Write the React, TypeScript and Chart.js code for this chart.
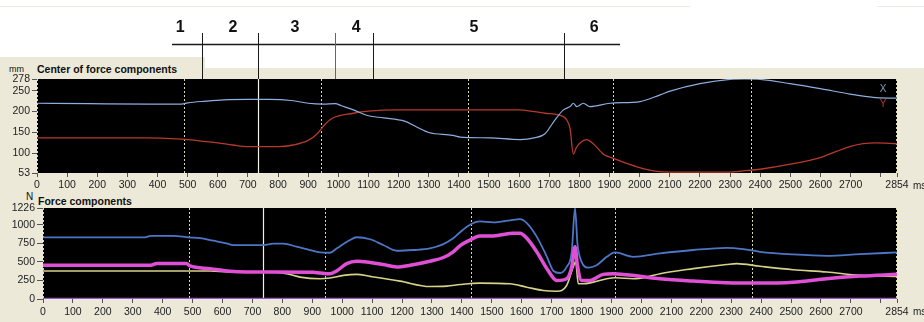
import React, { useEffect, useRef } from "react";
import { Chart, registerables } from "chart.js";

Chart.register(...registerables);

// ---------- data ----------
const X_MAX = 2854;
const xTickValues = [0, 100, 200, 300, 400, 500, 600, 700, 800, 900, 1000, 1100, 1200, 1300, 1400, 1500, 1600, 1700, 1800, 1900, 2000, 2100, 2200, 2300, 2400, 2500, 2600, 2700, 2800, 2854];
const xHiddenLabels = [2800];
const copTickValues = [53, 100, 150, 200, 250, 278];
const forceTickValues = [0, 250, 500, 750, 1000, 1226];

// Center of force components (mm)
const copXTimes = [0, 170, 370, 480, 500, 560, 620, 700, 770, 850, 900, 950, 990, 1010, 1050, 1100, 1150, 1220, 1260, 1300, 1380, 1404, 1503, 1603, 1650, 1686, 1714, 1747, 1769, 1780, 1791, 1813, 1835, 1902, 2001, 2068, 2101, 2200, 2300, 2350, 2400, 2499, 2599, 2698, 2775, 2854];
const copX = [220, 219, 218, 218, 221, 225, 228, 229, 229, 226, 220, 218, 219, 214, 204, 190, 185, 177, 163, 150, 143, 139, 137, 133, 137, 147, 175, 204, 212, 220, 212, 220, 212, 220, 224, 240, 249, 267, 277, 278, 277, 267, 255, 242, 234, 232];
const copYTimes = [0, 360, 480, 500, 600, 650, 700, 800, 850, 900, 930, 950, 980, 1050, 1100, 1200, 1400, 1600, 1650, 1686, 1730, 1758, 1769, 1780, 1790, 1824, 1846, 1880, 1913, 1950, 2000, 2046, 2100, 2300, 2344, 2400, 2500, 2600, 2700, 2780, 2854];
const copY = [137, 137, 134, 133, 125, 120, 116, 116, 120, 131, 147, 165, 184, 196, 201, 204, 204, 204, 200, 196, 192, 180, 159, 98, 114, 133, 123, 98, 88, 78, 66, 58, 55, 55, 58, 62, 74, 90, 117, 125, 123];

// Force components (N)
const forceBlueTimes = [0, 340, 360, 436, 486, 525, 569, 613, 636, 737, 770, 803, 847, 892, 926, 959, 981, 1026, 1048, 1093, 1137, 1182, 1238, 1293, 1338, 1371, 1394, 1427, 1460, 1505, 1561, 1594, 1617, 1650, 1684, 1706, 1728, 1750, 1767, 1778, 1786, 1800, 1823, 1850, 1884, 1912, 1973, 2062, 2173, 2284, 2340, 2396, 2507, 2619, 2730, 2854];
const forceBlue = [830, 830, 850, 850, 830, 820, 785, 750, 727, 727, 745, 745, 705, 660, 627, 623, 680, 795, 832, 805, 727, 650, 660, 682, 740, 818, 900, 1000, 1045, 1032, 1060, 1077, 1023, 840, 568, 377, 350, 432, 636, 1226, 750, 500, 423, 455, 568, 627, 568, 614, 660, 690, 673, 636, 600, 582, 605, 627];
const forceMagentaTimes = [0, 360, 380, 480, 491, 558, 625, 681, 903, 926, 959, 981, 1015, 1048, 1082, 1137, 1182, 1227, 1293, 1338, 1371, 1394, 1427, 1460, 1505, 1572, 1594, 1617, 1650, 1684, 1717, 1750, 1767, 1778, 1786, 1800, 1828, 1872, 1906, 1995, 2062, 2173, 2284, 2396, 2507, 2619, 2730, 2854];
const forceMagenta = [455, 455, 477, 477, 445, 409, 373, 364, 360, 350, 340, 377, 477, 509, 500, 464, 432, 455, 509, 559, 636, 720, 795, 850, 850, 886, 886, 818, 636, 409, 250, 273, 432, 705, 455, 250, 250, 332, 341, 305, 273, 241, 218, 214, 227, 273, 309, 332];
const forceYellowTimes = [0, 560, 620, 770, 814, 859, 926, 959, 1004, 1048, 1093, 1193, 1293, 1349, 1394, 1460, 1561, 1617, 1672, 1717, 1750, 1772, 1780, 1789, 1806, 1839, 1884, 1912, 1973, 2017, 2062, 2173, 2284, 2318, 2396, 2507, 2619, 2730, 2854];
const forceYellow = [377, 377, 364, 364, 341, 295, 273, 282, 318, 332, 305, 241, 168, 173, 195, 214, 205, 159, 114, 105, 182, 432, 500, 205, 205, 227, 273, 286, 273, 295, 341, 409, 464, 477, 441, 395, 364, 318, 305];
const forceBaseTimes = [0, 2854];
const forceBase = [0, 0];

// event markers (ms)
const markerTimes = [0, 488, 944, 1430, 1911, 2371, 2854];
const cursorTime = 735;

// phase annotations (ms on the top scale)
const phaseLabels = ["1", "2", "3", "4", "5", "6"];
const phaseLabelTimes = [475, 650, 856, 1059, 1450, 1849];
const phaseBounds = [548, 733, 989, 1115, 1749];
const phaseLineStart = 448;
const phaseLineEnd = 1935;

// ---------- helpers ----------
const pts = (t: number[], v: number[]) => t.map((x, i) => ({ x, y: v[i] }));
const TICK_FONT = { family: '"Liberation Sans", Arial, sans-serif', size: 10.5 };
const TICK_COLOR = "#222";

const panelPlugin = {
  id: "panel",
  beforeDraw(chart: any) {
    const { ctx, chartArea } = chart;
    ctx.save();
    ctx.fillStyle = "#000";
    ctx.fillRect(chartArea.left, chartArea.top, chartArea.right - chartArea.left, chartArea.bottom - chartArea.top);
    ctx.restore();
  },
  beforeDatasetsDraw(chart: any) {
    const { ctx, chartArea, scales } = chart;
    const x = scales.x;
    ctx.save();
    ctx.strokeStyle = "#d8d8a8";
    ctx.lineWidth = 1;
    ctx.setLineDash([2, 2]);
    markerTimes.forEach((ms) => {
      let px = Math.round(x.getPixelForValue(ms)) + 0.5;
      if (px > chartArea.right) px -= 1;
      ctx.beginPath();
      ctx.moveTo(px, chartArea.top);
      ctx.lineTo(px, chartArea.bottom);
      ctx.stroke();
    });
    ctx.setLineDash([]);
    ctx.strokeStyle = "#f2f2e6";
    ctx.lineWidth = 1.2;
    const cx = Math.round(x.getPixelForValue(cursorTime)) + 0.5;
    ctx.beginPath();
    ctx.moveTo(cx, chartArea.top);
    ctx.lineTo(cx, chartArea.bottom);
    ctx.stroke();
    ctx.restore();
  },
  afterDraw(chart: any) {
    const { ctx, chartArea } = chart;
    ctx.save();
    ctx.font = '10px "Liberation Sans", Arial, sans-serif';
    ctx.fillStyle = TICK_COLOR;
    ctx.textAlign = "left";
    ctx.textBaseline = "middle";
    const xs = chart.scales.x;
    ctx.fillText("ms", chartArea.right + 16, xs.top + 13);
    ctx.restore();
  },
};

const copLegendPlugin = {
  id: "copLegend",
  afterDatasetsDraw(chart: any) {
    const { ctx, chartArea } = chart;
    ctx.save();
    ctx.font = '10px "Liberation Sans", Arial, sans-serif';
    ctx.textAlign = "center";
    ctx.textBaseline = "middle";
    ctx.fillStyle = "#8a9cc4";
    ctx.fillText("X", chartArea.right - 14, chartArea.top + 10);
    ctx.fillStyle = "#b83a2c";
    ctx.fillText("Y", chartArea.right - 14, chartArea.top + 25);
    ctx.restore();
  },
};

const phasePlugin = {
  id: "phases",
  afterDraw(chart: any) {
    const { ctx, chartArea } = chart;
    const x = chart.scales.x;
    ctx.save();
    ctx.strokeStyle = "#1a1a1a";
    ctx.lineWidth = 1.3;
    ctx.beginPath();
    ctx.moveTo(x.getPixelForValue(phaseLineStart), 44.5);
    ctx.lineTo(x.getPixelForValue(phaseLineEnd), 44.5);
    ctx.stroke();
    phaseBounds.forEach((ms, i) => {
      const px = Math.round(x.getPixelForValue(ms)) + 0.5;
      ctx.strokeStyle = i === 2 ? "#666" : "#1a1a1a";
      ctx.lineWidth = 1;
      ctx.beginPath();
      ctx.moveTo(px, 33);
      ctx.lineTo(px, chartArea.top);
      ctx.stroke();
    });
    ctx.font = 'bold 16px "Liberation Sans", Arial, sans-serif';
    ctx.fillStyle = "#111";
    ctx.textAlign = "center";
    ctx.textBaseline = "middle";
    phaseLabels.forEach((t, i) => ctx.fillText(t, x.getPixelForValue(phaseLabelTimes[i]), 28));
    ctx.restore();
  },
};

function xScale(pad: number, h: number) {
  return {
    type: "linear" as const,
    min: 0,
    max: X_MAX,
    afterBuildTicks: (s: any) => {
      s.ticks = xTickValues.map((v) => ({ value: v }));
    },
    afterFit: (s: any) => {
      s.height = h;
    },
    ticks: {
      autoSkip: false,
      maxRotation: 0,
      padding: pad,
      font: TICK_FONT,
      color: TICK_COLOR,
      callback: (v: any) => (xHiddenLabels.includes(v) ? "" : String(v)),
    },
    grid: { display: true, drawOnChartArea: false, drawTicks: true, tickLength: 4, color: "#555" },
    border: { display: false },
  };
}

function yScale(min: number, max: number, values: number[], w: number, tl: number) {
  return {
    type: "linear" as const,
    min,
    max,
    afterBuildTicks: (s: any) => {
      s.ticks = values.map((v) => ({ value: v }));
    },
    afterFit: (s: any) => {
      s.width = w;
    },
    ticks: { autoSkip: false, padding: 2, font: TICK_FONT, color: TICK_COLOR, callback: (v: any) => String(v) },
    grid: { display: true, drawOnChartArea: false, drawTicks: true, tickLength: tl, color: "#555" },
    border: { display: false },
  };
}

const line = (data: any, color: string, width: number) => ({
  data,
  borderColor: color,
  borderWidth: width,
  pointRadius: 0,
  cubicInterpolationMode: "monotone" as const,
  fill: false,
});

export default function App() {
  const topRef = useRef<HTMLCanvasElement>(null);
  const botRef = useRef<HTMLCanvasElement>(null);

  useEffect(() => {
    const top = new Chart(topRef.current!, {
      type: "line",
      data: {
        datasets: [
          line(pts(copXTimes, copX), "#8eaee0", 1.2),
          line(pts(copYTimes, copY), "#b83a2c", 1.3),
        ],
      },
      options: {
        animation: false,
        responsive: false,
        events: [],
        layout: { padding: { top: 79, right: 27, bottom: 127, left: 0 } },
        plugins: { legend: { display: false }, tooltip: { enabled: false } },
        scales: {
          x: xScale(2, 22),
          y: yScale(53, 278, copTickValues, 37, 5),
        },
      },
      plugins: [panelPlugin, copLegendPlugin, phasePlugin],
    });

    const bot = new Chart(botRef.current!, {
      type: "line",
      data: {
        datasets: [
          line(pts(forceMagentaTimes, forceMagenta), "#e050d6", 3.5),
          line(pts(forceYellowTimes, forceYellow), "#d6d28a", 1.6),
          line(pts(forceBlueTimes, forceBlue), "#4e76c6", 1.8),
          line(pts(forceBaseTimes, forceBase), "#9058d0", 2.5),
        ],
      },
      options: {
        animation: false,
        responsive: false,
        events: [],
        layout: { padding: { top: 208, right: 27, bottom: 0, left: 0 } },
        plugins: { legend: { display: false }, tooltip: { enabled: false } },
        scales: {
          x: xScale(3, 23),
          y: yScale(0, 1226, forceTickValues, 43, 6),
        },
      },
      plugins: [panelPlugin],
    });

    return () => {
      top.destroy();
      bot.destroy();
    };
  }, []);

  const beige = "#ECE9D8";
  const txt: React.CSSProperties = {
    position: "absolute",
    fontFamily: '"Liberation Sans", Arial, sans-serif',
    color: "#111",
    whiteSpace: "nowrap",
    lineHeight: "12px",
  };

  return (
    <div style={{ position: "fixed", left: 0, top: 0, width: 924, height: 322, background: "#fff", overflow: "hidden" }}>
      <div style={{ position: "absolute", left: 0, top: 6, width: 690, height: 1, background: "#ececE4" }} />
      <div style={{ position: "absolute", left: 877, top: 6, width: 47, height: 1, background: "#ececE4" }} />
      <div style={{ position: "absolute", left: 0, top: 57, width: 205, height: 20, background: beige }} />
      <div style={{ position: "absolute", left: 0, top: 68, width: 924, height: 254, background: beige }} />
      <div style={{ ...txt, left: 9, top: 63, fontSize: 9 }}>mm</div>
      <div style={{ ...txt, left: 37, top: 63, fontSize: 10.5, fontWeight: "bold" }}>Center of force components</div>
      <div style={{ ...txt, left: 26, top: 191, fontSize: 10 }}>N</div>
      <div style={{ ...txt, left: 38, top: 195, fontSize: 10.5, fontWeight: "bold" }}>Force components</div>
      <canvas ref={topRef} width={924} height={322} style={{ position: "absolute", left: 0, top: 0 }} />
      <canvas ref={botRef} width={924} height={322} style={{ position: "absolute", left: 0, top: 0 }} />
    </div>
  );
}
